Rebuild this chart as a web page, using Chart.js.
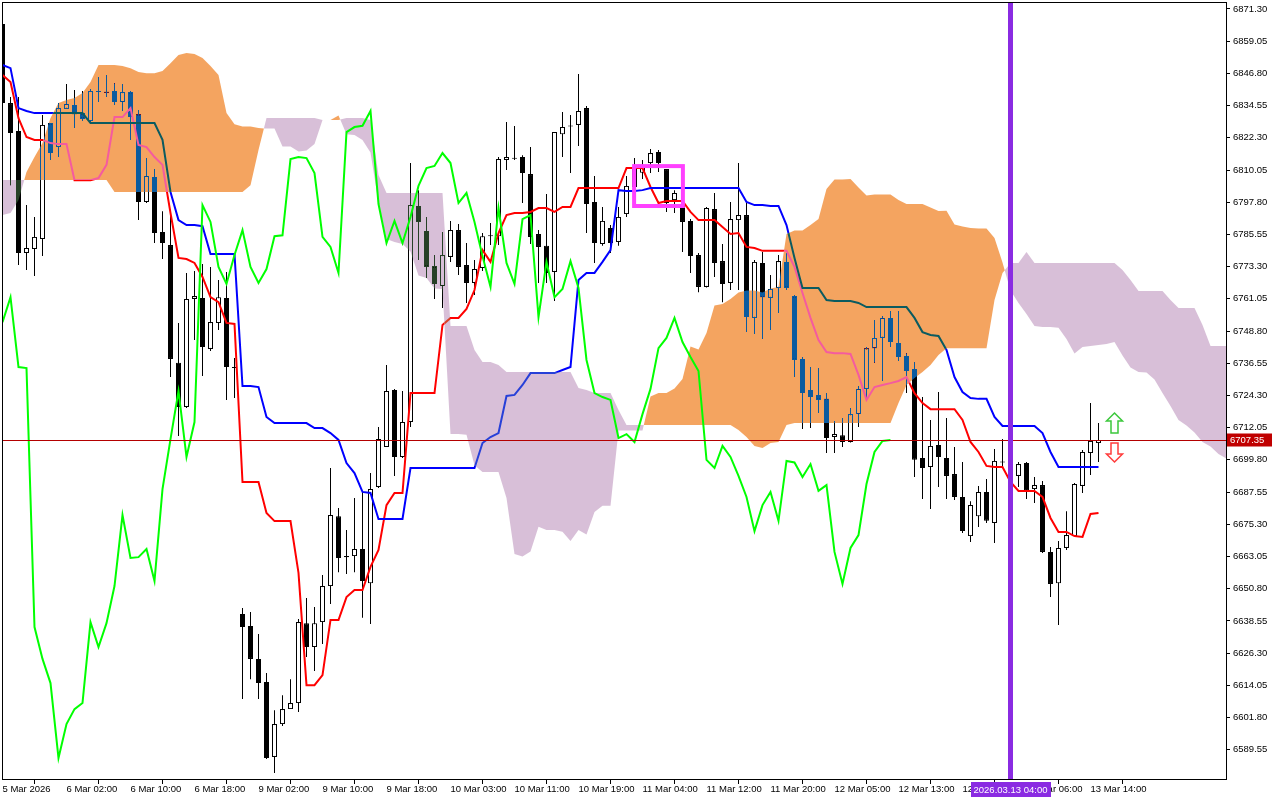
<!DOCTYPE html>
<html>
<head>
<meta charset="utf-8">
<script src="https://cdn.jsdelivr.net/npm/chart.js@4.4.1/dist/chart.umd.min.js"></script>
<style>
html, body { margin: 0; padding: 0; background: #fff; }
canvas { display: block; }
</style>
</head>
<body>
<canvas id="grafico" width="1280" height="800"></canvas>
<script>
// H1 candles, bar index 0..137
var opens = [6865.6, 6835.5, 6824.9, 6778.5, 6780.0, 6783.8, 6827.9, 6818.8, 6833.3, 6834.8,
 6831.7, 6828.7, 6839.7, 6839.7, 6840.1, 6835.9, 6839.7, 6831.3, 6797.9, 6807.4,
 6786.5, 6781.5, 6736.7, 6719.9, 6761.0, 6761.4, 6742.0, 6751.9, 6761.4, 6735.1,
 6641.2, 6636.6, 6624.1, 6615.3, 6586.8, 6599.3, 6605.0, 6607.3, 6637.7, 6628.6,
 6638.1, 6651.8, 6678.4, 6663.2, 6663.2, 6665.9, 6652.9, 6689.5, 6704.7, 6726.4,
 6700.9, 6714.2, 6796.4, 6786.9, 6773.5, 6765.9, 6777.0, 6787.2, 6773.9, 6767.1,
 6772.8, 6784.9, 6784.9, 6813.9, 6814.3, 6815.0, 6808.5, 6785.7, 6781.2, 6771.3,
 6823.7, 6826.6, 6827.2, 6833.6, 6797.9, 6781.9, 6788.0, 6782.7, 6793.3, 6803.6,
 6809.0, 6812.7, 6816.9, 6810.4, 6798.6, 6796.7, 6790.7, 6777.7, 6765.6, 6795.2,
 6775.4, 6767.1, 6791.0, 6792.9, 6753.8, 6774.7, 6761.4, 6765.2, 6775.1, 6762.1,
 6738.2, 6726.4, 6724.5, 6723.0, 6708.5, 6709.2, 6706.6, 6717.2, 6726.8, 6742.3,
 6746.2, 6753.8, 6744.3, 6739.3, 6734.4, 6700.5, 6697.1, 6705.5, 6700.5, 6694.4,
 6685.7, 6670.8, 6678.4, 6687.6, 6675.8, 6699.2, 6699.0, 6693.7, 6698.6, 6688.7,
 6690.2, 6664.8, 6652.9, 6666.3, 6670.8, 6689.9, 6702.4, 6706.2];
var highs = [6865.6, 6837.8, 6837.8, 6796.7, 6792.2, 6831.0, 6827.9, 6835.5, 6842.8, 6840.5,
 6840.1, 6840.9, 6845.4, 6846.2, 6843.1, 6842.8, 6840.1, 6832.9, 6814.6, 6810.4,
 6794.4, 6794.1, 6751.9, 6770.9, 6771.6, 6774.3, 6773.2, 6768.2, 6771.3, 6738.5,
 6643.5, 6641.9, 6633.6, 6618.7, 6604.6, 6610.3, 6616.4, 6639.3, 6647.3, 6643.8,
 6656.0, 6696.7, 6681.5, 6673.1, 6685.3, 6687.6, 6694.8, 6712.3, 6735.9, 6726.8,
 6726.0, 6812.7, 6802.4, 6792.2, 6777.7, 6786.5, 6790.7, 6789.5, 6782.3, 6775.8,
 6786.1, 6789.9, 6815.0, 6828.3, 6826.8, 6815.7, 6818.8, 6787.2, 6800.9, 6824.5,
 6832.1, 6831.0, 6846.6, 6834.4, 6807.8, 6796.0, 6789.1, 6796.0, 6807.8, 6814.6,
 6813.9, 6818.0, 6817.7, 6810.4, 6802.4, 6797.5, 6791.4, 6778.5, 6796.0, 6801.3,
 6781.9, 6797.9, 6812.7, 6797.5, 6775.8, 6778.9, 6770.1, 6777.7, 6778.5, 6762.5,
 6738.9, 6735.1, 6734.7, 6725.2, 6714.6, 6715.7, 6719.5, 6727.9, 6742.7, 6753.0,
 6754.5, 6756.4, 6756.4, 6740.4, 6737.0, 6723.7, 6715.0, 6725.6, 6715.7, 6704.7,
 6699.0, 6684.1, 6689.9, 6692.5, 6703.9, 6707.7, 6701.7, 6699.0, 6699.0, 6693.3,
 6691.8, 6666.7, 6668.9, 6680.3, 6691.0, 6703.6, 6721.4, 6713.8];
var lows = [6834.8, 6804.3, 6773.9, 6772.0, 6769.7, 6777.3, 6813.9, 6815.0, 6833.3, 6826.0,
 6828.7, 6828.3, 6835.9, 6837.8, 6834.8, 6832.5, 6821.5, 6791.0, 6797.5, 6782.3,
 6776.2, 6731.3, 6708.9, 6719.5, 6745.4, 6731.7, 6741.2, 6749.2, 6722.6, 6723.3,
 6608.8, 6616.4, 6608.8, 6586.0, 6580.7, 6598.6, 6605.0, 6603.9, 6624.8, 6619.5,
 6629.8, 6645.0, 6657.1, 6656.4, 6657.1, 6639.7, 6637.4, 6689.1, 6704.7, 6693.7,
 6700.5, 6712.3, 6775.8, 6769.0, 6761.0, 6757.6, 6775.1, 6770.1, 6759.5, 6762.5,
 6771.6, 6781.5, 6781.5, 6810.1, 6813.9, 6797.5, 6781.9, 6767.1, 6767.1, 6760.2,
 6815.0, 6808.9, 6819.2, 6786.1, 6774.7, 6781.2, 6778.5, 6781.2, 6792.2, 6801.7,
 6806.6, 6808.9, 6809.3, 6794.1, 6793.7, 6778.9, 6770.9, 6763.6, 6765.4, 6769.4,
 6759.8, 6764.4, 6764.4, 6748.4, 6747.7, 6745.8, 6749.2, 6755.7, 6764.4, 6731.3,
 6711.5, 6711.9, 6717.6, 6702.4, 6702.4, 6704.7, 6706.4, 6712.3, 6722.6, 6736.7,
 6729.8, 6742.7, 6737.4, 6725.2, 6693.3, 6684.9, 6681.1, 6689.5, 6684.9, 6684.5,
 6672.0, 6668.6, 6674.3, 6675.8, 6668.2, 6697.5, 6690.2, 6689.5, 6684.9, 6683.4,
 6664.4, 6647.6, 6637.0, 6665.5, 6670.8, 6687.2, 6694.0, 6699.0];
var closes = [6835.5, 6824.1, 6778.5, 6780.4, 6784.6, 6827.2, 6816.5, 6833.6, 6835.2, 6831.3,
 6829.5, 6840.1, 6840.0, 6839.4, 6835.9, 6839.7, 6830.2, 6797.9, 6807.8, 6786.1,
 6782.3, 6738.2, 6719.9, 6761.0, 6762.1, 6742.7, 6752.2, 6761.7, 6735.1, 6734.7,
 6636.2, 6624.1, 6614.9, 6586.4, 6599.3, 6605.0, 6607.3, 6638.1, 6628.6, 6637.7,
 6651.8, 6678.8, 6662.5, 6662.8, 6665.9, 6653.7, 6688.7, 6707.7, 6726.0, 6700.9,
 6714.2, 6796.7, 6790.3, 6773.2, 6766.7, 6777.7, 6787.2, 6773.2, 6767.1, 6772.4,
 6784.9, 6785.2, 6814.2, 6815.0, 6814.6, 6808.9, 6784.6, 6780.8, 6770.9, 6824.5,
 6826.4, 6826.9, 6832.5, 6797.1, 6782.3, 6790.7, 6782.3, 6792.2, 6804.0, 6810.8,
 6811.6, 6816.5, 6812.7, 6797.5, 6801.3, 6790.3, 6777.3, 6765.6, 6795.6, 6774.7,
 6766.7, 6791.4, 6792.9, 6754.1, 6775.1, 6761.7, 6764.8, 6775.4, 6765.2, 6737.8,
 6725.2, 6723.7, 6722.6, 6708.1, 6709.6, 6706.6, 6717.2, 6726.8, 6742.3, 6746.2,
 6753.8, 6744.6, 6738.9, 6733.6, 6699.8, 6696.7, 6705.1, 6700.9, 6693.7, 6685.7,
 6672.7, 6682.6, 6687.6, 6676.6, 6699.4, 6698.8, 6693.3, 6698.2, 6688.0, 6690.2,
 6664.8, 6652.6, 6666.3, 6671.2, 6690.6, 6702.8, 6707.0, 6707.35];

// Ichimoku lines
var tenkan = [6846.2, 6843.5, 6829.8, 6822.6, 6821.5, 6821.5, 6820.3, 6819.9, 6819.9, 6806.2,
 6806.2, 6806.2, 6807.0, 6812.0, 6830.2, 6830.2, 6833.6, 6819.6, 6818.8, 6815.0,
 6812.0, 6793.7, 6776.6, 6776.2, 6774.7, 6769.4, 6761.7, 6759.8, 6751.9, 6751.5,
 6691.4, 6691.4, 6691.4, 6679.6, 6676.5, 6676.5, 6676.5, 6656.8, 6614.1, 6614.1,
 6617.9, 6638.9, 6638.9, 6647.6, 6650.3, 6650.3, 6659.1, 6665.5, 6682.6, 6687.2,
 6687.2, 6725.2, 6725.2, 6725.2, 6725.2, 6751.1, 6753.8, 6753.8, 6757.2, 6764.4,
 6779.6, 6775.1, 6786.1, 6792.9, 6793.7, 6793.7, 6794.1, 6795.6, 6795.6, 6794.1,
 6796.0, 6796.0, 6803.2, 6803.2, 6803.2, 6803.2, 6803.2, 6803.2, 6810.8, 6810.8,
 6810.8, 6803.6, 6797.5, 6798.3, 6798.3, 6798.3, 6794.1, 6791.0, 6791.0, 6791.0,
 6788.4, 6785.7, 6786.1, 6780.8, 6780.4, 6779.3, 6779.3, 6779.3, 6779.3, 6773.2,
 6763.3, 6753.8, 6745.4, 6740.8, 6740.4, 6740.4, 6740.1, 6732.1, 6722.6, 6727.5,
 6728.3, 6729.0, 6729.8, 6731.3, 6725.2, 6721.4, 6719.1, 6719.1, 6719.1, 6719.1,
 6715.0, 6706.6, 6702.8, 6697.5, 6697.1, 6697.1, 6691.4, 6688.0, 6688.0, 6688.0,
 6685.7, 6677.7, 6672.4, 6672.4, 6670.8, 6670.5, 6679.2, 6679.6];
var kijun = [6850.0, 6848.8, 6833.6, 6832.5, 6831.7, 6831.7, 6831.7, 6831.7, 6831.7, 6831.7,
 6831.7, 6827.9, 6827.9, 6827.9, 6827.9, 6827.9, 6827.9, 6827.9, 6827.9, 6827.9,
 6821.5, 6801.7, 6791.0, 6789.1, 6789.1, 6788.7, 6778.1, 6778.1, 6778.1, 6778.1,
 6727.9, 6727.9, 6727.5, 6716.1, 6713.8, 6713.8, 6713.8, 6713.8, 6713.8, 6711.9,
 6711.9, 6710.0, 6707.4, 6698.6, 6694.8, 6687.6, 6687.2, 6677.3, 6677.3, 6677.3,
 6677.3, 6696.7, 6696.7, 6696.7, 6696.7, 6696.7, 6696.7, 6696.7, 6696.7, 6696.7,
 6706.2, 6708.5, 6710.0, 6724.1, 6724.5, 6728.3, 6732.8, 6732.8, 6732.8, 6732.8,
 6734.0, 6735.1, 6768.2, 6770.9, 6770.9, 6775.1, 6779.6, 6802.4, 6802.1, 6802.1,
 6802.4, 6803.2, 6803.2, 6803.2, 6803.2, 6803.2, 6803.2, 6803.2, 6803.2, 6803.2,
 6803.2, 6803.2, 6803.2, 6797.9, 6796.7, 6796.7, 6796.4, 6796.4, 6789.1, 6776.6,
 6765.2, 6765.2, 6765.2, 6760.6, 6760.2, 6760.2, 6760.2, 6759.5, 6757.9, 6757.9,
 6757.9, 6757.9, 6757.9, 6757.9, 6753.8, 6748.4, 6747.3, 6746.9, 6741.6, 6731.3,
 6725.6, 6723.3, 6723.0, 6723.0, 6716.1, 6712.7, 6712.7, 6712.7, 6712.7, 6712.7,
 6710.0, 6702.8, 6697.1, 6697.1, 6697.1, 6697.1, 6697.1, 6697.1];
// cloud spans, bar index 0..153 (runs 26 bars past the last candle)
var senkouA = [6792.9, 6793.7, 6798.6, 6809.3, 6815.0, 6820.3, 6829.8, 6835.5, 6836.7, 6837.4,
 6839.3, 6843.5, 6850.0, 6850.0, 6850.0, 6849.6, 6848.8, 6847.3, 6846.9, 6846.9,
 6847.7, 6850.7, 6853.8, 6854.6, 6854.2, 6852.7, 6849.6, 6846.2, 6831.7, 6827.5,
 6826.6, 6826.6, 6826.0, 6825.8, 6825.8, 6819.0, 6819.0, 6817.1, 6817.5, 6819.9,
 6829.1, 6829.1, 6830.8, 6823.7, 6823.4, 6821.5, 6816.7, 6797.7, 6783.8, 6782.7,
 6781.9, 6779.1, 6769.9, 6769.0, 6765.0, 6764.8, 6709.6, 6709.6, 6709.4, 6697.8,
 6695.2, 6695.2, 6695.2, 6685.3, 6664.0, 6663.0, 6664.9, 6674.4, 6673.1, 6673.1,
 6672.5, 6668.9, 6673.1, 6671.4, 6680.0, 6682.3, 6682.3, 6711.0, 6711.0, 6711.0,
 6711.0, 6723.9, 6725.2, 6725.2, 6726.9, 6730.6, 6742.9, 6741.8, 6748.1, 6758.5,
 6759.1, 6761.0, 6763.5, 6764.2, 6764.2, 6763.5, 6765.0, 6765.6, 6785.7, 6787.0,
 6787.0, 6789.1, 6791.4, 6802.8, 6806.4, 6806.4, 6806.6, 6803.4, 6800.4, 6800.7,
 6800.7, 6800.7, 6798.6, 6797.1, 6797.1, 6797.1, 6795.8, 6794.5, 6794.6, 6789.3,
 6788.6, 6788.0, 6787.8, 6787.8, 6784.2, 6774.9, 6764.2, 6759.5, 6755.3, 6750.7,
 6750.3, 6750.3, 6750.1, 6745.8, 6740.3, 6742.7, 6743.1, 6743.5, 6743.9, 6744.6,
 6739.5, 6734.9, 6733.2, 6733.0, 6730.4, 6725.2, 6720.3, 6715.0, 6712.9, 6710.2,
 6706.6, 6704.9, 6702.0, 6700.3];
var senkouB = [6806.3, 6806.3, 6806.3, 6806.3, 6806.3, 6806.3, 6806.3, 6806.3, 6806.3, 6806.3,
 6806.3, 6806.3, 6806.3, 6806.3, 6801.7, 6801.7, 6801.7, 6801.7, 6801.7, 6801.7,
 6801.7, 6801.7, 6801.7, 6801.7, 6801.7, 6801.7, 6801.7, 6801.7, 6801.7, 6801.7,
 6801.7, 6804.3, 6817.7, 6829.8, 6829.8, 6829.8, 6829.8, 6829.8, 6829.8, 6829.8,
 6829.1, 6829.1, 6829.1, 6829.8, 6829.8, 6829.8, 6829.1, 6808.2, 6801.3, 6801.3,
 6801.3, 6801.3, 6801.3, 6801.3, 6801.3, 6801.3, 6750.7, 6750.7, 6750.7, 6741.6,
 6737.0, 6737.0, 6735.9, 6733.2, 6733.2, 6733.2, 6733.2, 6733.2, 6733.2, 6733.2,
 6733.2, 6733.2, 6727.1, 6726.4, 6725.2, 6725.2, 6725.2, 6718.8, 6713.1, 6713.1,
 6713.1, 6713.1, 6713.1, 6713.1, 6713.1, 6713.1, 6713.1, 6713.1, 6713.1, 6713.1,
 6713.1, 6713.1, 6711.2, 6708.5, 6705.1, 6704.3, 6706.2, 6706.6, 6713.1, 6713.8,
 6713.8, 6713.8, 6713.8, 6713.8, 6713.8, 6713.8, 6713.8, 6713.8, 6713.8, 6713.8,
 6713.8, 6713.8, 6721.4, 6728.3, 6730.9, 6733.2, 6735.9, 6739.7, 6742.3, 6742.3,
 6742.3, 6742.3, 6742.3, 6742.3, 6760.6, 6770.9, 6774.7, 6774.7, 6778.9, 6774.7,
 6774.7, 6774.7, 6774.7, 6774.7, 6774.7, 6774.7, 6774.7, 6774.7, 6774.7, 6774.7,
 6772.0, 6768.2, 6764.0, 6764.0, 6764.0, 6764.0, 6760.6, 6757.6, 6757.6, 6757.6,
 6751.1, 6743.1, 6743.1, 6743.1];

// axis labels
var timeBars = [0, 8, 16, 24, 32, 40, 48, 56, 64, 72, 80, 88, 96, 104, 112, 120, 128, 136];
var timeLabels = ['5 Mar 2026', '6 Mar 02:00', '6 Mar 10:00', '6 Mar 18:00', '9 Mar 02:00',
 '9 Mar 10:00', '9 Mar 18:00', '10 Mar 03:00', '10 Mar 11:00', '10 Mar 19:00', '11 Mar 04:00',
 '11 Mar 12:00', '11 Mar 20:00', '12 Mar 05:00', '12 Mar 13:00', '12 Mar 21:00', '13 Mar 06:00',
 '13 Mar 14:00'];
var priceTicks = [6871.30, 6859.05, 6846.80, 6834.55, 6822.30, 6810.05, 6797.80, 6785.55,
 6773.30, 6761.05, 6748.80, 6736.55, 6724.30, 6712.05, 6699.80, 6687.55, 6675.30, 6663.05,
 6650.80, 6638.55, 6626.30, 6614.05, 6601.80, 6589.55];

// chart objects
var lastPrice = 6707.35;
var vlineBar = 126;
var vlineText = '2026.03.13 04:00';
var boxBars = [78.7, 85.3];
var boxPrices = [6812.3, 6795.6];
var arrowBar = 139;
var upArrowTip = 6717.6;
var downArrowTip = 6699.0;

var FONT = 'Liberation Sans';

var wickData = closes.map(function (c, i) { return { x: i, y: [lows[i], highs[i]] }; });
var bodyData = closes.map(function (c, i) { return { x: i, y: [opens[i], c] }; });
var bodyFill = closes.map(function (c, i) { return c >= opens[i] ? '#ffffff' : '#000000'; });
var toPoints = function (arr) { return arr.map(function (v, i) { return { x: i, y: v }; }); };
// chikou = close shifted back 26 bars
var chikou = closes.slice(26).map(function (v, i) { return { x: i, y: v }; });

// line colours where they cross the cloud (same blend as the terminal)
var inCloud = {
    2: { up: 'rgb(244,91,159)', down: 'rgb(216,64,39)' },
    3: { up: 'rgb(11,91,96)', down: 'rgb(39,64,216)' }
};
var lineSrc = { 2: tenkan, 3: kijun };
var cloudParts = [];

// white canvas so the difference blend of the cloud gives the right colours
var paper = {
    id: 'paper',
    beforeDraw: function (chart) {
        var c = chart.ctx;
        c.save();
        c.fillStyle = '#ffffff';
        c.fillRect(0, 0, chart.width, chart.height);
        c.restore();
    }
};

function buildCloud(chart) {
    var sx = chart.scales.x, sy = chart.scales.y;
    var parts = [], run = null, sign = 0;
    var close = function () {
        if (!run || run.length < 2) return;
        var p = new Path2D();
        run.forEach(function (q, k) { if (k) p.lineTo(q.ax, q.ay); else p.moveTo(q.ax, q.ay); });
        for (var k = run.length - 1; k >= 0; k--) p.lineTo(run[k].bx, run[k].by);
        p.closePath();
        parts.push({ path: p, up: sign > 0 });
    };
    for (var i = 0; i < senkouA.length; i++) {
        var d = senkouA[i] - senkouB[i];
        var s = d > 0 ? 1 : (d < 0 ? -1 : (sign || 1));
        var x = sx.getPixelForValue(i);
        var pt = { ax: x, ay: sy.getPixelForValue(senkouA[i]), bx: x, by: sy.getPixelForValue(senkouB[i]) };
        if (run === null) { run = [pt]; sign = s; continue; }
        if (s !== sign) {
            var dp = senkouA[i - 1] - senkouB[i - 1];
            var t = dp / (dp - d);
            var pr = run[run.length - 1];
            var cx = pr.ax + t * (pt.ax - pr.ax), cy = pr.ay + t * (pt.ay - pr.ay);
            run.push({ ax: cx, ay: cy, bx: cx, by: cy });
            close();
            run = [{ ax: cx, ay: cy, bx: cx, by: cy }, pt];
            sign = s;
        } else {
            run.push(pt);
        }
    }
    close();
    return parts;
}

function clipArea(ctx, area) {
    ctx.beginPath();
    ctx.rect(area.left, area.top, area.right - area.left, area.bottom - area.top);
    ctx.clip();
}

// cloud over the candles, tenkan/kijun split inside and outside of it
var kumo = {
    id: 'kumo',
    afterDatasetDraw: function (chart, args) {
        var ctx = chart.ctx, area = chart.chartArea;
        if (args.index === 1) {
            cloudParts = buildCloud(chart);
            ctx.save();
            clipArea(ctx, area);
            ctx.globalCompositeOperation = 'difference';
            cloudParts.forEach(function (c) {
                ctx.fillStyle = c.up ? 'rgb(11,91,159)' : 'rgb(39,64,39)';
                ctx.fill(c.path);
            });
            ctx.restore();
        }
        if (inCloud[args.index]) {
            ctx.restore();
            var sx = chart.scales.x, sy = chart.scales.y, src = lineSrc[args.index];
            cloudParts.forEach(function (c) {
                ctx.save();
                clipArea(ctx, area);
                ctx.clip(c.path);
                ctx.beginPath();
                src.forEach(function (v, i) {
                    var x = sx.getPixelForValue(i), y = sy.getPixelForValue(v);
                    if (i) ctx.lineTo(x, y); else ctx.moveTo(x, y);
                });
                ctx.lineWidth = 2;
                ctx.lineJoin = 'miter';
                ctx.strokeStyle = c.up ? inCloud[args.index].up : inCloud[args.index].down;
                ctx.stroke();
                ctx.restore();
            });
        }
    },
    beforeDatasetDraw: function (chart, args) {
        if (!inCloud[args.index]) return;
        var ctx = chart.ctx, area = chart.chartArea;
        ctx.save();
        var p = new Path2D();
        p.rect(area.left - 5, area.top - 5, area.right - area.left + 10, area.bottom - area.top + 10);
        cloudParts.forEach(function (c) { p.addPath(c.path); });
        ctx.clip(p, 'evenodd');
    }
};

function drawArrow(ctx, x, tipY, up, color) {
    var k = up ? 1 : -1, hw = 8, sw = 3.5, hh = 8, len = up ? 20 : 19;
    ctx.beginPath();
    ctx.moveTo(x, tipY);
    ctx.lineTo(x + hw, tipY + k * hh);
    ctx.lineTo(x + sw, tipY + k * hh);
    ctx.lineTo(x + sw, tipY + k * len);
    ctx.lineTo(x - sw, tipY + k * len);
    ctx.lineTo(x - sw, tipY + k * hh);
    ctx.lineTo(x - hw, tipY + k * hh);
    ctx.closePath();
    ctx.fillStyle = '#ffffff';
    ctx.fill();
    ctx.lineWidth = 1.5;
    ctx.strokeStyle = color;
    ctx.stroke();
}

// price line, objects and frame on top
var overlay = {
    id: 'overlay',
    afterDraw: function (chart) {
        var ctx = chart.ctx, area = chart.chartArea, sx = chart.scales.x, sy = chart.scales.y;
        ctx.save();
        // bid line
        var py = Math.round(sy.getPixelForValue(lastPrice)) + 0.5;
        ctx.strokeStyle = '#b40000';
        ctx.lineWidth = 1;
        ctx.beginPath();
        ctx.moveTo(area.left, py);
        ctx.lineTo(area.right, py);
        ctx.stroke();

        // rectangle
        var x1 = sx.getPixelForValue(boxBars[0]), x2 = sx.getPixelForValue(boxBars[1]);
        var y1 = sy.getPixelForValue(boxPrices[0]), y2 = sy.getPixelForValue(boxPrices[1]);
        ctx.strokeStyle = '#ff40ff';
        ctx.lineWidth = 4;
        ctx.strokeRect(x1 + 2, y1 + 2, x2 - x1 - 4, y2 - y1 - 4);

        // arrows
        var ax = sx.getPixelForValue(arrowBar);
        drawArrow(ctx, ax, sy.getPixelForValue(upArrowTip), true, '#3cc83c');
        drawArrow(ctx, ax, sy.getPixelForValue(downArrowTip), false, '#ff3c3c');

        // vertical line
        var vx = sx.getPixelForValue(vlineBar);
        ctx.strokeStyle = '#8a2be2';
        ctx.lineWidth = 5;
        ctx.beginPath();
        ctx.moveTo(vx, area.top);
        ctx.lineTo(vx, area.bottom);
        ctx.stroke();

        // frame
        ctx.strokeStyle = '#000';
        ctx.lineWidth = 1;
        ctx.strokeRect(area.left + 0.5, area.top - 0.5, area.right - area.left, area.bottom - area.top);

        ctx.font = '9.5px "' + FONT + '"';
        ctx.textBaseline = 'middle';
        // time label of the vertical line
        var tw = ctx.measureText(vlineText).width + 6;
        ctx.fillStyle = '#8a2be2';
        ctx.fillRect(Math.round(vx - tw / 2), area.bottom + 2, Math.round(tw), 15);
        ctx.fillStyle = '#fff';
        ctx.textAlign = 'center';
        ctx.fillText(vlineText, vx, area.bottom + 10);

        // price label
        ctx.fillStyle = '#c00000';
        ctx.fillRect(area.right + 1, py - 7, 45, 13);
        ctx.fillStyle = '#fff';
        ctx.textAlign = 'left';
        ctx.fillText(lastPrice.toFixed(2), area.right + 4, py);
        ctx.restore();
    }
};

var ctx = document.querySelector('#grafico').getContext('2d');
var chart = new Chart(ctx, {
    type: 'bar',
    data: {
        datasets: [
            { type: 'bar', data: wickData, backgroundColor: '#000', borderWidth: 0, barThickness: 1, grouped: false, inflateAmount: 0, order: 10 },
            { type: 'bar', data: bodyData, backgroundColor: bodyFill, borderColor: '#000', borderWidth: 1, borderSkipped: false, barThickness: 5, minBarLength: 1, grouped: false, inflateAmount: 0, order: 9 },
            { type: 'line', data: toPoints(tenkan), borderColor: '#ff0000', borderWidth: 2, pointRadius: 0, tension: 0, order: 8 },
            { type: 'line', data: toPoints(kijun), borderColor: '#0000ff', borderWidth: 2, pointRadius: 0, tension: 0, order: 7 },
            { type: 'line', data: chikou, borderColor: '#00ff00', borderWidth: 2, pointRadius: 0, tension: 0, order: 5 }
        ]
    },
    options: {
        responsive: false,
        animation: false,
        events: [],
        layout: { padding: { left: 2, top: 3, right: 0, bottom: 0 } },
        plugins: { legend: { display: false }, tooltip: { enabled: false } },
        scales: {
            x: {
                type: 'linear',
                min: -0.0625,
                max: 152.9375,
                offset: false,
                border: { display: false },
                grid: { drawOnChartArea: false, drawTicks: true, tickLength: 4, color: '#000' },
                afterBuildTicks: function (s) { s.ticks = timeBars.map(function (v) { return { value: v }; }); },
                afterFit: function (s) { s.height = 20; s.paddingLeft = 0; s.paddingRight = 0; },
                ticks: {
                    autoSkip: false, maxRotation: 0, align: 'start', padding: 0, color: '#000',
                    font: { family: FONT, size: 9.5 },
                    callback: function (v) { var k = timeBars.indexOf(v); return k >= 0 ? timeLabels[k] : ''; }
                }
            },
            y: {
                type: 'linear',
                position: 'right',
                min: 6578.03,
                max: 6873.58,
                border: { display: false },
                grid: { drawOnChartArea: false, drawTicks: true, tickLength: 4, color: '#000' },
                afterBuildTicks: function (s) { s.ticks = priceTicks.map(function (v) { return { value: v }; }); },
                afterFit: function (s) { s.width = 54; s.paddingTop = 0; s.paddingBottom = 0; },
                ticks: {
                    autoSkip: false, padding: 3, color: '#000',
                    font: { family: FONT, size: 9.5 },
                    callback: function (v) { return v.toFixed(2); }
                }
            }
        }
    },
    plugins: [paper, kumo, overlay]
});
</script>
</body>
</html>
